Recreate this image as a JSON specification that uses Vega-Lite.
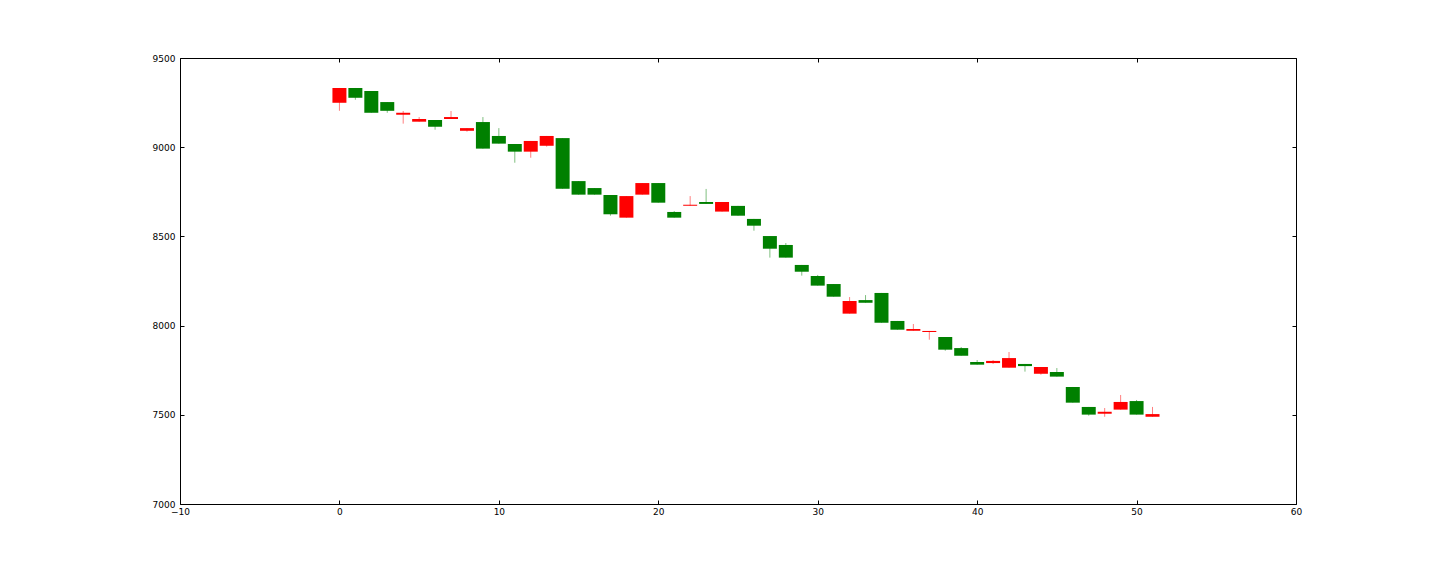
{
  "$schema": "https://vega.github.io/schema/vega-lite/v6.json",
  "width": 1116,
  "height": 446,
  "autosize": {"type": "none"},
  "padding": {"left": 180, "top": 58, "right": 144, "bottom": 72},
  "background": "white",
  "config": {
    "view": {"stroke": "black", "strokeWidth": 1},
    "axis": {
      "grid": false,
      "domain": false,
      "tickColor": "black",
      "tickSize": -4,
      "tickWidth": 1,
      "labelFont": "DejaVu Sans",
      "labelFontSize": 9,
      "labelColor": "black",
      "labelPadding": 9,
      "labelFlush": false,
      "labelOverlap": false,
      "format": "d",
      "title": null
    }
  },
  "data": {
    "values": [
      {"t": 0, "open": 9332, "high": 9332, "low": 9204, "close": 9249},
      {"t": 1, "open": 9277, "high": 9332, "low": 9266, "close": 9332},
      {"t": 2, "open": 9193, "high": 9315, "low": 9193, "close": 9315},
      {"t": 3, "open": 9204, "high": 9253, "low": 9193, "close": 9253},
      {"t": 4, "open": 9193, "high": 9203, "low": 9132, "close": 9182},
      {"t": 5, "open": 9158, "high": 9169, "low": 9143, "close": 9143},
      {"t": 6, "open": 9115, "high": 9152, "low": 9098, "close": 9152},
      {"t": 7, "open": 9169, "high": 9203, "low": 9158, "close": 9158},
      {"t": 8, "open": 9107, "high": 9107, "low": 9087, "close": 9092},
      {"t": 9, "open": 8992, "high": 9169, "low": 8992, "close": 9141},
      {"t": 10, "open": 9020, "high": 9107, "low": 9020, "close": 9063},
      {"t": 11, "open": 8975, "high": 9018, "low": 8913, "close": 9018},
      {"t": 12, "open": 9035, "high": 9035, "low": 8941, "close": 8975},
      {"t": 13, "open": 9063, "high": 9063, "low": 9003, "close": 9008},
      {"t": 14, "open": 8767, "high": 9051, "low": 8767, "close": 9051},
      {"t": 15, "open": 8734, "high": 8810, "low": 8734, "close": 8810},
      {"t": 16, "open": 8734, "high": 8771, "low": 8734, "close": 8771},
      {"t": 17, "open": 8624, "high": 8732, "low": 8616, "close": 8732},
      {"t": 18, "open": 8726, "high": 8726, "low": 8605, "close": 8605},
      {"t": 19, "open": 8799, "high": 8799, "low": 8734, "close": 8734},
      {"t": 20, "open": 8689, "high": 8799, "low": 8689, "close": 8799},
      {"t": 21, "open": 8605, "high": 8642, "low": 8605, "close": 8637},
      {"t": 22, "open": 8678, "high": 8726, "low": 8672, "close": 8672},
      {"t": 23, "open": 8682, "high": 8766, "low": 8682, "close": 8693},
      {"t": 24, "open": 8693, "high": 8693, "low": 8639, "close": 8639},
      {"t": 25, "open": 8616, "high": 8671, "low": 8616, "close": 8671},
      {"t": 26, "open": 8560, "high": 8598, "low": 8532, "close": 8598},
      {"t": 27, "open": 8431, "high": 8502, "low": 8381, "close": 8502},
      {"t": 28, "open": 8381, "high": 8463, "low": 8381, "close": 8452},
      {"t": 29, "open": 8302, "high": 8340, "low": 8280, "close": 8340},
      {"t": 30, "open": 8224, "high": 8284, "low": 8224, "close": 8278},
      {"t": 31, "open": 8162, "high": 8233, "low": 8162, "close": 8233},
      {"t": 32, "open": 8138, "high": 8160, "low": 8067, "close": 8067},
      {"t": 33, "open": 8128, "high": 8171, "low": 8128, "close": 8143},
      {"t": 34, "open": 8016, "high": 8183, "low": 8016, "close": 8183},
      {"t": 35, "open": 7977, "high": 8026, "low": 7977, "close": 8026},
      {"t": 36, "open": 7981, "high": 8009, "low": 7971, "close": 7971},
      {"t": 37, "open": 7970, "high": 7970, "low": 7921, "close": 7964},
      {"t": 38, "open": 7865, "high": 7936, "low": 7859, "close": 7936},
      {"t": 39, "open": 7831, "high": 7880, "low": 7831, "close": 7874},
      {"t": 40, "open": 7781, "high": 7807, "low": 7781, "close": 7796},
      {"t": 41, "open": 7802, "high": 7807, "low": 7785, "close": 7790},
      {"t": 42, "open": 7818, "high": 7852, "low": 7764, "close": 7764},
      {"t": 43, "open": 7773, "high": 7785, "low": 7742, "close": 7785},
      {"t": 44, "open": 7768, "high": 7768, "low": 7725, "close": 7730},
      {"t": 45, "open": 7714, "high": 7762, "low": 7714, "close": 7740},
      {"t": 46, "open": 7568, "high": 7656, "low": 7568, "close": 7656},
      {"t": 47, "open": 7501, "high": 7544, "low": 7495, "close": 7544},
      {"t": 48, "open": 7517, "high": 7538, "low": 7489, "close": 7506},
      {"t": 49, "open": 7572, "high": 7611, "low": 7529, "close": 7529},
      {"t": 50, "open": 7501, "high": 7583, "low": 7501, "close": 7577},
      {"t": 51, "open": 7504, "high": 7544, "low": 7489, "close": 7489}
    ]
  },
  "layer": [
    {
      "mark": {"type": "rule", "strokeWidth": 1, "opacity": 0.5},
      "encoding": {
        "x": {"field": "t", "type": "quantitative", "scale": {"domain": [-10, 60], "nice": false, "zero": false, "padding": 0}, "axis": {"orient": "bottom", "values": [-10, 0, 10, 20, 30, 40, 50, 60], "labelPadding": 7}},
        "y": {"field": "low", "type": "quantitative", "scale": {"domain": [7000, 9500], "nice": false, "zero": false, "padding": 0}, "axis": {"orient": "left", "values": [7000, 7500, 8000, 8500, 9000, 9500]}},
        "y2": {"field": "high"},
        "color": {"condition": {"test": "datum.close >= datum.open", "value": "#008000"}, "value": "#ff0000"}
      }
    },
    {
      "mark": {"type": "bar", "size": 14, "orient": "vertical"},
      "encoding": {
        "x": {"field": "t", "type": "quantitative", "scale": {"domain": [-10, 60], "nice": false, "zero": false, "padding": 0}, "axis": {"orient": "top", "values": [-10, 0, 10, 20, 30, 40, 50, 60], "labels": false}},
        "y": {"field": "open", "type": "quantitative", "scale": {"domain": [7000, 9500], "nice": false, "zero": false, "padding": 0}, "axis": {"orient": "right", "values": [7000, 7500, 8000, 8500, 9000, 9500], "labels": false}},
        "y2": {"field": "close"},
        "color": {"condition": {"test": "datum.close >= datum.open", "value": "#008000"}, "value": "#ff0000"}
      }
    }
  ],
  "resolve": {"axis": {"x": "independent", "y": "independent"}}
}
